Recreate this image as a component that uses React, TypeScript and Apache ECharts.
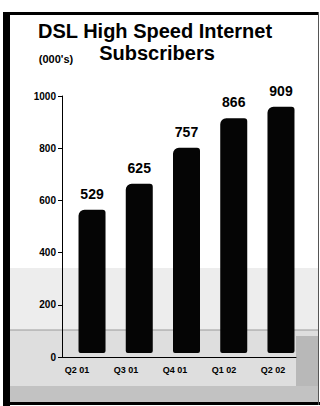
import React, { useEffect, useRef } from "react";
import * as echarts from "echarts";

const categories = ["Q2 01", "Q3 01", "Q4 01", "Q1 02", "Q2 02"];
const subscribers = [529, 625, 757, 866, 909];
const yTicks = [0, 200, 400, 600, 800, 1000];

const FONT = "'Liberation Sans', Arial, Helvetica, sans-serif";

export default function App() {
  const ref = useRef<HTMLDivElement>(null);

  useEffect(() => {
    if (!ref.current) return;
    const chart = echarts.init(ref.current, null, { renderer: "svg" });

    const option: echarts.EChartsOption = {
      animation: false,
      backgroundColor: "#ffffff",
      graphic: [
        // floor shading
        { type: "rect", z: -10, shape: { x: 10, y: 268, width: 308, height: 62 }, style: { fill: "#ededed" } },
        { type: "rect", z: -10, shape: { x: 10, y: 330, width: 308, height: 56 }, style: { fill: "#dedede" } },
        { type: "rect", z: -10, shape: { x: 296, y: 336, width: 22, height: 50 }, style: { fill: "#b8b8b8" } },
        { type: "rect", z: -10, shape: { x: 10, y: 386, width: 308, height: 16 }, style: { fill: "#c2c2c2" } },
        { type: "line", z: -9, shape: { x1: 10, y1: 330, x2: 318, y2: 330 }, style: { stroke: "#9a9a9a", lineWidth: 1 } },
        // frame
        { type: "rect", shape: { x: 3, y: 12, width: 315, height: 3 }, style: { fill: "#000" } },
        { type: "rect", shape: { x: 3, y: 12, width: 7, height: 394 }, style: { fill: "#000" } },
        { type: "rect", shape: { x: 3, y: 402, width: 317, height: 3 }, style: { fill: "#000" } },
        { type: "line", shape: { x1: 318.5, y1: 12, x2: 318.5, y2: 405 }, style: { stroke: "#555", lineWidth: 1 } },
        // titles
        {
          type: "text", x: 155, y: 31,
          style: { text: "DSL High Speed Internet", font: `bold 20px ${FONT}`, fill: "#000", textAlign: "center", textVerticalAlign: "middle" },
        },
        {
          type: "text", x: 157, y: 53,
          style: { text: "Subscribers", font: `bold 20px ${FONT}`, fill: "#000", textAlign: "center", textVerticalAlign: "middle" },
        },
        {
          type: "text", x: 56, y: 59,
          style: { text: "(000's)", font: `bold 11px ${FONT}`, fill: "#000", textAlign: "center", textVerticalAlign: "middle" },
        },
      ],
      grid: [
        // value axis on the back wall
        { left: 62, right: 24, top: 96, bottom: 49 },
        // category labels along the floor
        { left: 52.5, right: 22.5, top: 96, bottom: 49 },
        // front bars
        { left: 68.4, right: 15.4, top: 82, bottom: 53 },
      ],
      xAxis: [
        {
          gridIndex: 0, type: "category", data: categories,
          axisLine: { show: true, lineStyle: { color: "#000", width: 1 } },
          axisTick: { show: false }, axisLabel: { show: false },
        },
        {
          gridIndex: 1, type: "category", data: categories,
          axisLine: { show: false }, axisTick: { show: false },
          axisLabel: { show: true, margin: 8, color: "#000", fontFamily: FONT, fontWeight: "bold", fontSize: 9 },
        },
        {
          gridIndex: 2, type: "category", data: categories, show: false,
        },
      ],
      yAxis: [
        {
          gridIndex: 0, type: "value", min: yTicks[0], max: yTicks[yTicks.length - 1], interval: 200,
          axisLine: { show: true, lineStyle: { color: "#000", width: 1 } },
          axisTick: { show: true, length: 4, lineStyle: { color: "#000" } },
          axisLabel: {
            margin: 6, color: "#000", fontFamily: FONT, fontWeight: "bold", fontSize: 10,
            formatter: (v: number) => String(v),
          },
          splitLine: { show: false },
        },
        { gridIndex: 1, type: "value", min: 0, max: 1000, show: false, splitLine: { show: false } },
        { gridIndex: 2, type: "value", min: 0, max: 1000, show: false, splitLine: { show: false } },
      ],
      series: [
        {
          type: "bar",
          xAxisIndex: 2,
          yAxisIndex: 2,
          data: subscribers,
          barWidth: 27,
          itemStyle: { color: "#050505", borderRadius: [6, 3, 2, 2] },
          label: {
            show: true, position: "top", distance: 9,
            color: "#000", fontFamily: FONT, fontWeight: "bold", fontSize: 14,
          },
        },
      ],
    };

    chart.setOption(option);
    return () => chart.dispose();
  }, []);

  return <div ref={ref} style={{ width: 320, height: 406, position: "absolute", left: 0, top: 0 }} />;
}
